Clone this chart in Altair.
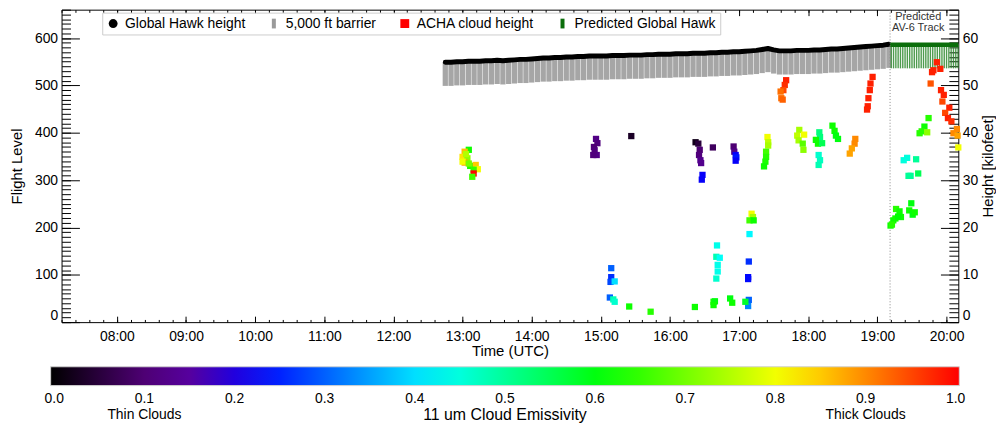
import altair as alt
import pandas as pd

FONT = "Liberation Sans"

# ---------------- data ----------------
# Global Hawk flight level (FL), sampled every 5 min starting 12:45 UTC
gh_start_hour = 12.75
gh_step_hour = 5 / 60
gh_flight_level = [
    549, 549, 550,
    550, 551, 551, 551, 552, 552, 553, 552, 553, 554, 555, 555,
    556, 557, 558, 558, 559, 559, 560, 560, 561, 561, 562, 562,
    562, 562, 563, 563, 563, 564, 564, 564, 565, 565, 566, 566,
    566, 567, 567, 567, 568, 568, 568, 569, 569, 570, 570, 571,
    571, 572, 573, 574, 576, 578, 575, 573, 573, 573, 574, 574,
    574, 575, 575, 576, 577, 577, 578, 579, 580, 581, 582, 583,
    584, 585, 587,
]
barrier_depth_fl = 50  # 5,000 ft

# Predicted Global Hawk track (FL), every 2 min starting 19:12 UTC
pred_start_hour = 19.2
pred_step_hour = 2 / 60
pred_flight_level = [
    586, 586, 586, 586, 586, 586, 586, 586, 586, 586,
    586, 586, 586, 586, 586, 586, 586, 586, 586, 586,
    586, 586, 586, 586, 586, 586, 586, 586, 586, 586,
]
track_split_hour = 19.183

# ACHA cloud heights: time (decimal hour UTC), height (kft), emissivity
cloud_time = [
    13.09, 13.03, 13.00, 13.07, 13.03, 13.00, 13.11, 13.19, 13.22, 13.16, 13.16, 13.14, 13.09, 13.05,
    14.93, 14.95, 14.90, 14.91, 14.94, 14.89,
    15.44,
    16.37, 16.41, 16.43, 16.42, 16.44, 16.45, 16.47, 16.46, 16.62,
    16.92, 16.93, 16.95, 16.96, 16.95,
    17.41, 17.42, 17.42, 17.39, 17.39, 17.38, 17.36,
    17.18, 17.20, 17.15, 17.21, 17.15, 17.14, 17.13, 17.13, 17.14, 17.13,
    15.15, 15.15, 15.14, 15.20, 15.13, 15.18, 15.20, 15.41, 15.72,
    16.36, 16.63, 16.65, 16.63, 16.87, 16.90, 17.09,
    16.68, 16.67, 16.72, 16.69, 16.69, 16.67,
    17.68, 17.66, 17.64, 17.60, 17.61, 17.63,
    18.93, 18.90, 18.89, 18.87, 18.86, 18.85,
    17.87, 17.84, 17.94, 17.86, 17.92, 17.93,
    18.16, 18.17, 18.11, 18.14, 18.20, 18.15, 18.17, 18.15,
    18.35, 18.38, 18.40, 18.43,
    18.68, 18.67, 18.63, 18.60,
    19.86, 19.81, 19.91, 19.79, 19.77, 19.92, 19.96, 19.94, 20.04, 19.98, 20.02, 20.07, 20.15, 20.10, 20.16, 20.17,
    19.74, 19.68, 19.64, 19.72, 19.61,
    19.38, 19.43, 19.56, 19.45, 19.48, 19.59,
    19.19, 19.23, 19.27, 19.32, 19.26, 19.34, 19.46, 19.49, 19.51, 19.54, 19.21, 19.30,
]
cloud_kft = [
    36.4, 36.0, 34.9, 34.6, 33.7, 33.9, 33.0, 33.2, 32.3, 32.2, 31.4, 30.7, 33.5, 35.5,
    38.7, 37.8, 37.0, 36.3, 35.3, 35.3,
    39.3,
    38.0, 37.7, 36.4, 35.3, 34.2, 33.6, 31.1, 30.1, 36.9,
    37.1, 36.0, 35.3, 34.8, 34.1,
    39.1, 38.0, 37.3, 36.0, 34.9, 33.9, 32.9,
    22.9, 22.2, 21.5, 21.5, 18.6, 12.8, 9.5, 9.1, 4.7, 3.4,
    11.4, 9.5, 8.5, 8.6, 5.2, 4.8, 4.3, 3.3, 2.2,
    3.2, 4.3, 4.4, 3.6, 5.0, 4.1, 4.3,
    16.2, 13.8, 13.6, 12.1, 10.7, 9.2,
    51.1, 50.1, 49.0, 48.7, 47.3, 47.0,
    51.8, 50.4, 49.0, 47.3, 45.6, 44.9,
    40.6, 39.4, 39.6, 38.4, 37.7, 36.4,
    40.1, 39.1, 38.5, 37.7, 37.8, 35.3, 34.2, 33.2,
    41.5, 40.4, 39.4, 38.7,
    38.7, 37.7, 36.7, 35.6,
    54.9, 53.2, 53.5, 52.8, 50.4, 49.0, 48.0, 46.6, 45.3, 44.2, 43.1, 42.4, 40.8, 39.9, 39.4, 36.9,
    43.1, 41.3, 40.3, 40.1, 39.9,
    34.2, 34.7, 34.4, 30.9, 30.9, 31.4,
    20.4, 21.5, 23.9, 23.4, 21.9, 22.2, 23.6, 25.1, 22.7, 23.2, 20.6, 22.3,
]
cloud_emis = [
    0.62, 0.86, 0.83, 0.72, 0.88, 0.80, 0.63, 0.85, 0.80, 0.65, 1.00, 0.66, 0.70, 0.75,
    0.12, 0.11, 0.10, 0.11, 0.12, 0.11,
    0.03,
    0.02, 0.05, 0.10, 0.11, 0.13, 0.13, 0.22, 0.22, 0.08,
    0.10, 0.12, 0.22, 0.24, 0.22,
    0.80, 0.76, 0.74, 0.66, 0.64, 0.63, 0.62,
    0.80, 0.74, 0.66, 0.62, 0.42, 0.26, 0.23, 0.23, 0.30, 0.33,
    0.30, 0.26, 0.28, 0.40, 0.30, 0.48, 0.46, 0.62, 0.64,
    0.62, 0.63, 0.60, 0.62, 0.60, 0.62, 0.58,
    0.44, 0.48, 0.43, 0.44, 0.44, 0.46,
    0.98, 0.97, 0.95, 0.92, 0.92, 0.93,
    0.98, 0.98, 0.98, 0.98, 0.98, 0.98,
    0.74, 0.76, 0.80, 0.74, 0.68, 0.72,
    0.52, 0.52, 0.62, 0.62, 0.55, 0.46, 0.47, 0.48,
    0.62, 0.62, 0.60, 0.60,
    0.90, 0.90, 0.88, 0.88,
    0.98, 0.98, 0.98, 0.98, 0.94, 0.98, 0.98, 0.95, 0.98, 0.95, 0.98, 0.97, 0.90, 0.90, 0.88, 0.80,
    0.64, 0.62, 0.64, 0.72, 0.64,
    0.45, 0.45, 0.50, 0.50, 0.50, 0.55,
    0.62, 0.62, 0.64, 0.62, 0.62, 0.62, 0.62, 0.60, 0.60, 0.62, 0.64, 0.61,
]

# colour table (IDL-like rainbow); the end stops sit a hair outside 0..1
emis_stops = [-0.004, 0.1, 0.16, 0.224, 0.425, 0.61, 0.81, 1.004]
emis_colors = ["#000000", "#4e0074", "#5800a6", "#0000ff", "#00ffff", "#00ff00", "#ffff00", "#ff0000"]
emis_ticks = [0.0, 0.1, 0.2, 0.3, 0.4, 0.5, 0.6, 0.7, 0.8, 0.9, 1.0]

legend_names = ["Global Hawk height", "5,000 ft barrier", "ACHA cloud height", "Predicted Global Hawk"]
legend_colors = ["#000000", "#9a9a9a", "#ff0000", "#0b6e0b"]
BAR = "M-0.45,-1.1H0.45V1.1H-0.45Z"
legend_shapes = ["circle", BAR, "square", BAR]
legend_anchor_hour = 10.0
legend_anchor_fl = 622

track_text = "Predicted\nAV-6 Track"
track_text_hour = 19.59
track_text_kft = 64.4

hour_ticks = list(range(8, 21))
hour_minor = [round(7.2 + 0.2 * i, 1) for i in range(65)]
fl_major = list(range(0, 601, 100))
fl_minor = list(range(0, 661, 10))
kft_major = list(range(0, 61, 10))
kft_minor = list(range(0, 67))

# ---------------- tables ----------------
gh_df = pd.DataFrame({
    "t": [gh_start_hour + i * gh_step_hour for i in range(len(gh_flight_level))],
    "fl": gh_flight_level,
})
pred_df = pd.DataFrame({
    "t": [pred_start_hour + i * pred_step_hour for i in range(len(pred_flight_level))],
    "fl": pred_flight_level,
})
pred_line_df = pd.concat([pd.DataFrame({"t": [track_split_hour], "fl": [pred_flight_level[0]]}), pred_df,
                          pd.DataFrame({"t": [20.17], "fl": [pred_flight_level[-1]]})])
cloud_df = pd.DataFrame({"t": cloud_time, "kft": cloud_kft, "emis": cloud_emis})
split_df = pd.DataFrame({"t": [track_split_hour]})
text_df = pd.DataFrame({"t": [track_text_hour], "kft": [track_text_kft], "label": [track_text]})
leg_df = pd.DataFrame({"name": legend_names, "t": [legend_anchor_hour] * 4, "fl": [legend_anchor_fl] * 4})

# ---------------- scales / axes ----------------
xs = alt.Scale(domain=[7.2, 20.17], nice=False, zero=False)
ys = alt.Scale(domain=[0, 660], nice=False, zero=False)
ks = alt.Scale(domain=[0, 66], nice=False, zero=False)

LBL = dict(labelFont=FONT, labelFontSize=14, labelColor="black")
TTL = dict(titleFont=FONT, titleFontSize=15, titleFontWeight="normal", titleColor="black")


def ax(orient, values, size, **kw):
    d = dict(orient=orient, values=values, tickSize=size, offset=-size, domain=False, grid=False,
             ticks=True, tickColor="black", tickWidth=1, labels=False, title=None)
    d.update(kw)
    return alt.Axis(**d)


x_bottom_major = ax("bottom", hour_ticks, 6, labels=True,
                    labelExpr="(datum.value < 10 ? '0' : '') + datum.value + ':00'",
                    labelPadding=8, title="Time (UTC)", titlePadding=0, **LBL, **TTL)
x_bottom_minor = ax("bottom", hour_minor, 2.7)
x_top_major = ax("top", hour_ticks, 6)
x_top_minor = ax("top", hour_minor, 2.7)
y_left_major = ax("left", fl_major, 18, labels=True, labelPadding=4, labelFlush=True,
                  title="Flight Level", titlePadding=10, **LBL, **TTL)
y_left_minor = ax("left", fl_minor, 9)
y_right_major = ax("right", kft_major, 18, labels=True, labelPadding=4, labelFlush=True,
                   title="Height [kilofeet]", titlePadding=3, titleAngle=270, titleBaseline="top",
                   **LBL, **TTL)
y_right_minor = ax("right", kft_minor, 9.5)

# ---------------- layers ----------------
barrier = alt.Chart(gh_df).transform_calculate(low=f"datum.fl - {barrier_depth_fl}").mark_rule(
    color="#a6a6a6", strokeWidth=5.3
).encode(
    x=alt.X("t:Q", scale=xs, axis=x_bottom_minor),
    y=alt.Y("fl:Q", scale=ys, axis=y_left_minor),
    y2="low:Q",
)

pred_bars = alt.Chart(pred_df).transform_calculate(low=f"datum.fl - {barrier_depth_fl}").mark_rule(
    color="#2f8a2f", strokeWidth=1.4, opacity=0.85
).encode(
    x=alt.X("t:Q", scale=xs, axis=x_top_major),
    y=alt.Y("fl:Q", scale=ys, axis=None),
    y2="low:Q",
)

gh_line = alt.Chart(gh_df).mark_line(color="black", strokeWidth=5, strokeCap="round", strokeJoin="round").encode(
    x=alt.X("t:Q", scale=xs, axis=x_bottom_major),
    y=alt.Y("fl:Q", scale=ys, axis=y_left_major),
)

pred_line = alt.Chart(pred_line_df).mark_line(color="#0b6e0b", strokeWidth=4.5).encode(
    x=alt.X("t:Q", scale=xs, axis=x_top_minor),
    y=alt.Y("fl:Q", scale=ys, axis=None),
)

split_rule = alt.Chart(split_df).mark_rule(color="#888888", strokeDash=[1, 2], strokeWidth=1).encode(
    x=alt.X("t:Q", scale=xs, axis=None),
)

clouds = alt.Chart(cloud_df).mark_square(size=40, opacity=1).encode(
    x=alt.X("t:Q", scale=xs, axis=None),
    y=alt.Y("kft:Q", scale=ks, axis=y_right_major),
    color=alt.Color(
        "emis:Q",
        scale=alt.Scale(domain=emis_stops, range=emis_colors, interpolate="rgb"),
        legend=alt.Legend(
            orient="none", legendX=-11, legendY=360, direction="horizontal",
            gradientLength=916, gradientThickness=19, gradientStrokeWidth=1, gradientStrokeColor="#d0d0d0",
            values=emis_ticks, format=".1f", labelOverlap=False, labelAlign="center",
            labelExpr="datum.value == 0.1 ? ['0.1', 'Thin Clouds'] : (datum.value == 0.9 ? ['0.9', 'Thick Clouds'] : datum.label)",
            labelFont=FONT, labelFontSize=14, labelColor="black", labelOffset=7,
            title="11 um Cloud Emissivity", titleOrient="bottom", titleAnchor="middle",
            titleFont=FONT, titleFontSize=16, titleFontWeight="normal", titleColor="black",
            titlePadding=-15, padding=0,
        ),
    ),
)

track_label = alt.Chart(text_df).mark_text(
    font=FONT, fontSize=11, lineHeight=11, lineBreak="\n", color="#333333", align="center", baseline="middle"
).encode(
    x=alt.X("t:Q", scale=xs, axis=None),
    y=alt.Y("kft:Q", scale=ks, axis=y_right_minor),
    text="label:N",
)

# legend key: the anchor points sit underneath the white legend box
legend_layer = alt.Chart(leg_df).mark_point(filled=True, size=20, opacity=1).encode(
    x=alt.X("t:Q", scale=xs, axis=None),
    y=alt.Y("fl:Q", scale=ys, axis=None),
    color=alt.Color(
        "name:N",
        scale=alt.Scale(domain=legend_names, range=legend_colors),
        legend=alt.Legend(
            orient="none", legendX=41, legendY=3, direction="horizontal", columns=4, columnPadding=21,
            title=None, labelFont=FONT, labelFontSize=14, labelColor="black", labelOffset=5,
            symbolSize=80, symbolStrokeWidth=0, symbolOpacity=1,
            strokeColor="#cccccc", fillColor="white", padding=4, zindex=5,
        ),
    ),
    shape=alt.Shape("name:N", scale=alt.Scale(domain=legend_names, range=legend_shapes)),
)

chart = alt.layer(
    barrier, pred_bars, gh_line, pred_line, split_rule, clouds, track_label, legend_layer
).resolve_scale(
    y="independent", color="independent", shape="independent"
).resolve_axis(
    x="independent", y="independent"
).properties(
    width=904, height=315,
    autosize=alt.AutoSizeParams(type="none"),
    padding={"left": 54, "top": 0, "right": 38, "bottom": 100},
).configure(font=FONT).configure_view(stroke="black", strokeWidth=1)

chart.save("out.html", embed_options={"renderer": "svg", "actions": False})
